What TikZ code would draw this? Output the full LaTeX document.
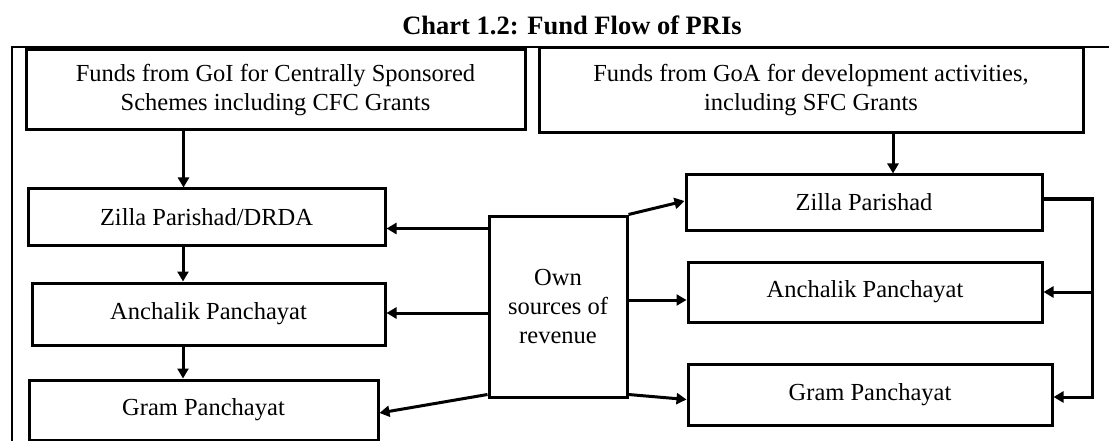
\documentclass[tikz,border=0pt]{standalone}
\usepackage{fontspec}
\setmainfont{Liberation Serif}
\usetikzlibrary{arrows.meta}

\begin{document}
\begin{tikzpicture}[x=1pt,y=-1pt,
    block/.style={draw,line width=3pt,rectangle,inner sep=0pt,align=center,
        font=\fontsize{24.5}{29}\selectfont},
    flow/.style={line width=3pt,-{Triangle[length=10pt,width=11pt]}},
    frame/.style={line width=1.5pt}]
    \useasboundingbox(0,0)rectangle(1109,441);
    \node[anchor=base,font=\bfseries\fontsize{26.5}{30}\selectfont](title)at(572,35){Chart 1.2: Fund Flow of PRIs};
    \draw[frame](12,445)--(12,47)--(1109,47);
    % central and state funds
    \node[block,minimum width=499,minimum height=80](goi)at(275.5,90){Funds from GoI for Centrally Sponsored\\Schemes including CFC Grants};
    \node[block,minimum width=544,minimum height=85](goa)at(811,90.5){Funds from GoA for development activities,\\including SFC Grants};
    % left column
    \node[block,minimum width=357,minimum height=56](zpl)at(206.5,217){Zilla Parishad/DRDA};
    \node[block,minimum width=353,minimum height=62](apl)at(208.5,314){Anchalik Panchayat};
    \node[block,minimum width=349,minimum height=60](gpl)at(203.5,410){Gram Panchayat};
    % own revenue
    \node[block,minimum width=138,minimum height=181](own)at(558,306.5){Own\\sources of\\revenue};
    % right column
    \node[block,minimum width=356,minimum height=55](zpr)at(864,202.5){Zilla Parishad};
    \node[block,minimum width=354,minimum height=60](apr)at(865,292){Anchalik Panchayat};
    \node[block,minimum width=364,minimum height=61](gpr)at(870,394.5){Gram Panchayat};
    \coordinate(rail)at(1092,0);
    % arrows
    \draw[flow]([xshift=-92pt]goi.south)--([xshift=-92pt]goi.south|-zpl.north);
    \draw[flow]([xshift=-23.5pt]zpl.south)--([xshift=-23.5pt]zpl.south|-apl.north);
    \draw[flow]([xshift=-25.5pt]apl.south)--([xshift=-25.5pt]apl.south|-gpl.north);
    \draw[flow]([xshift=82pt]goa.south)--([xshift=82pt]goa.south|-zpr.north);
    \draw[flow]([yshift=78pt]own.west)--([yshift=78pt]own.west-|zpl.east);
    \draw[flow]([yshift=-6.5pt]own.west)--([yshift=-6.5pt]own.west-|apl.east);
    \draw[flow]([yshift=4pt]own.south west)--([yshift=-3pt]gpl.east);
    \draw[flow](own.north east)--([yshift=1.5pt]zpr.west);
    \draw[flow]([yshift=6.5pt]own.east)--([yshift=6.5pt]own.east-|apr.west);
    \draw[flow]([yshift=4pt]own.south east)--([yshift=-5pt]gpr.west);
    \draw[flow]([yshift=3.5pt]zpr.east)--([yshift=3.5pt]zpr.east-|rail)|-([yshift=-2.5pt]gpr.east);
    \draw[flow](apr.east-|rail)--(apr.east);
\end{tikzpicture}
\end{document}
